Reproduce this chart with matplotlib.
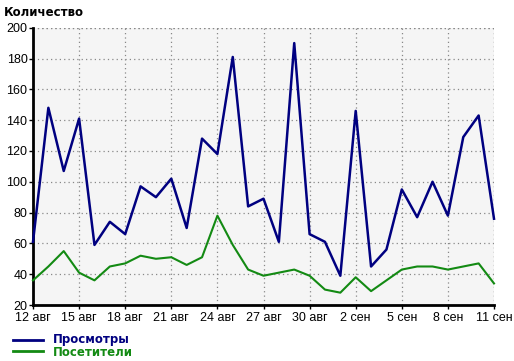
import matplotlib
matplotlib.use("Agg")
import matplotlib.pyplot as plt
import numpy as np

dates = ["12 авг", "13 авг", "14 авг", "15 авг", "16 авг", "17 авг", "18 авг", "19 авг",
         "20 авг", "21 авг", "22 авг", "23 авг", "24 авг", "25 авг", "26 авг", "27 авг",
         "28 авг", "29 авг", "30 авг", "31 авг", "1 сен", "2 сен", "3 сен", "4 сен",
         "5 сен", "6 сен", "7 сен", "8 сен", "9 сен", "10 сен", "11 сен"]
views = [61, 148, 107, 141, 59, 74, 66, 97, 90, 102, 70, 128, 118, 181, 84, 89,
         61, 190, 66, 61, 39, 146, 45, 56, 95, 77, 100, 78, 129, 143, 76]
visitors = [36, 45, 55, 41, 36, 45, 47, 52, 50, 51, 46, 51, 78, 59, 43, 39,
            41, 43, 39, 30, 28, 38, 29, 36, 43, 45, 45, 43, 45, 47, 34]
tick_idx = list(range(0, 31, 3))
tick_labels = [dates[i] for i in tick_idx]
yticks = [20, 40, 60, 80, 100, 120, 140, 160, 180, 200]

W, H = 514, 361
fig = plt.figure(figsize=(W / 100, H / 100), dpi=100)
ax = fig.add_axes([33 / W, 1 - 305 / H, (494 - 33) / W, (305 - 27.7) / H])
ax.set_facecolor("#f5f5f5")
x = np.arange(len(dates))
blue = "#000080"
green = "#138a13"
ax.plot(x, views, color=blue, lw=1.8, zorder=3, clip_on=False)
ax.plot(x, visitors, color=green, lw=1.5, zorder=3, clip_on=False)
ax.set_xlim(0, 30)
ax.set_ylim(20, 200)
ax.set_xticks(tick_idx)
ax.set_xticklabels(tick_labels, family="Liberation Sans")
ax.set_yticks(yticks)
ax.set_yticklabels([str(v) for v in yticks], family="Liberation Sans")
ax.grid(True, color="#888888", linestyle=(0, (1, 2.5)), lw=0.9)
for s in ["top", "right"]:
    ax.spines[s].set_visible(False)
for s in ["left", "bottom"]:
    ax.spines[s].set_linewidth(2)
    ax.spines[s].set_color("black")
ax.tick_params(axis="both", length=3, width=1, color="black", labelsize=9, pad=2,
               labelcolor="black")
ax.tick_params(axis="y", pad=1)
ax.axhline(200, color="#888888", linestyle=(0, (1, 2.5)), lw=0.9)
ax.axvline(30, color="#888888", linestyle=(0, (1, 2.5)), lw=0.9)

fig.text(4 / W, 1 - 12 / H, "Количество", fontsize=8.5, fontweight="bold",
         va="center", ha="left")

# legend
fig.add_artist(plt.Line2D([13 / W, 43 / W], [1 - 340 / H, 1 - 340 / H], color=blue, lw=2))
fig.add_artist(plt.Line2D([13 / W, 43 / W], [1 - 351 / H, 1 - 351 / H], color=green, lw=2))
fig.text(53 / W, 1 - 340 / H, "Просмотры", color=blue, fontsize=8.5, fontweight="bold",
         va="center", ha="left")
fig.text(53 / W, 1 - 352 / H, "Посетители", color=green, fontsize=8.5, fontweight="bold",
         va="center", ha="left")

fig.savefig("out.png", dpi=100, facecolor="white")
